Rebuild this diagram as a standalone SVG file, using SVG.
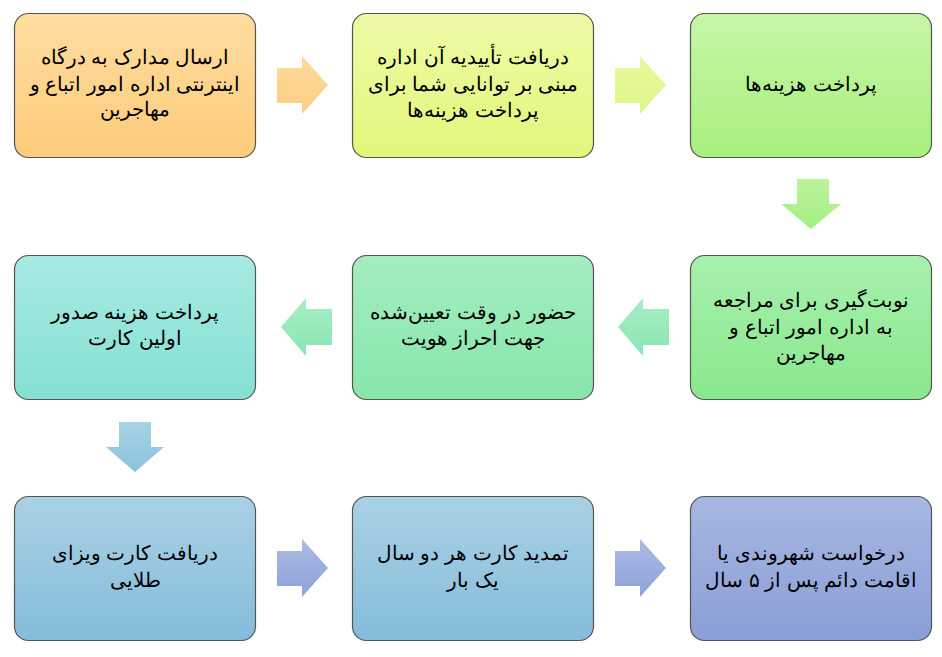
<svg xmlns="http://www.w3.org/2000/svg" width="942" height="657" viewBox="0 0 942 657">
<style>
.box{stroke:#55554f;stroke-width:1.2}
.t{font-family:"Liberation Sans","Noto Sans",Arial,sans-serif;font-size:20px;fill:#000;text-anchor:middle;direction:rtl}
</style>
<defs>
<linearGradient id="g1" x1="0" y1="0" x2="0" y2="1"><stop offset="0" stop-color="#FEDDA0"/><stop offset="1" stop-color="#FDCB7B"/></linearGradient>
<linearGradient id="g2" x1="0" y1="0" x2="0" y2="1"><stop offset="0" stop-color="#EFFAA6"/><stop offset="1" stop-color="#E2F67A"/></linearGradient>
<linearGradient id="g3" x1="0" y1="0" x2="0" y2="1"><stop offset="0" stop-color="#C6F6A6"/><stop offset="1" stop-color="#A8F07E"/></linearGradient>
<linearGradient id="g6" x1="0" y1="0" x2="0" y2="1"><stop offset="0" stop-color="#A8F0AE"/><stop offset="1" stop-color="#88E88C"/></linearGradient>
<linearGradient id="g5" x1="0" y1="0" x2="0" y2="1"><stop offset="0" stop-color="#A4EDC1"/><stop offset="1" stop-color="#86E6AB"/></linearGradient>
<linearGradient id="g4" x1="0" y1="0" x2="0" y2="1"><stop offset="0" stop-color="#A7E9E2"/><stop offset="1" stop-color="#84E1D3"/></linearGradient>
<linearGradient id="g7" x1="0" y1="0" x2="0" y2="1"><stop offset="0" stop-color="#AAD1E4"/><stop offset="1" stop-color="#84BCDB"/></linearGradient>
<linearGradient id="g9" x1="0" y1="0" x2="0" y2="1"><stop offset="0" stop-color="#A8B7E1"/><stop offset="1" stop-color="#8A9ED7"/></linearGradient>
<linearGradient id="a1" x1="0" y1="0" x2="0" y2="1"><stop offset="0" stop-color="#FEDA98"/><stop offset="1" stop-color="#FDCE84"/></linearGradient>
<linearGradient id="a2" x1="0" y1="0" x2="0" y2="1"><stop offset="0" stop-color="#E8F9A0"/><stop offset="1" stop-color="#DCF785"/></linearGradient>
<linearGradient id="a3" x1="0" y1="0" x2="0" y2="1"><stop offset="0" stop-color="#BCF49C"/><stop offset="1" stop-color="#A4EE82"/></linearGradient>
<linearGradient id="a4" x1="0" y1="0" x2="0" y2="1"><stop offset="0" stop-color="#A6EEC4"/><stop offset="1" stop-color="#8AE6B2"/></linearGradient>
<linearGradient id="a6" x1="0" y1="0" x2="0" y2="1"><stop offset="0" stop-color="#A8D2E4"/><stop offset="1" stop-color="#8CC2DE"/></linearGradient>
<linearGradient id="a7" x1="0" y1="0" x2="0" y2="1"><stop offset="0" stop-color="#AABAE2"/><stop offset="1" stop-color="#8EA2D8"/></linearGradient>
</defs>

<g id="connectors">
<polygon fill="url(#a1)" points="277,68 302,68 302,56 328,85 302,114 302,103 277,103"/>
<polygon fill="url(#a2)" points="615,68 640,68 640,56 666,85 640,114 640,103 615,103"/>
<polygon fill="url(#a3)" points="797,179 829,179 829,204 841,204 811,229 781,204 797,204"/>
<polygon fill="url(#a4)" points="669,309 643,309 643,298 618,327 643,356 643,345 669,345"/>
<polygon fill="url(#a4)" points="332,309 306,309 306,298 281,327 306,356 306,345 332,345"/>
<polygon fill="url(#a6)" points="119,422 151,422 151,447 164,447 135,472 106,447 119,447"/>
<polygon fill="url(#a7)" points="277,551 302,551 302,539 328,568 302,597 302,586 277,586"/>
<polygon fill="url(#a7)" points="615,551 640,551 640,539 666,568 640,597 640,586 615,586"/>
</g>

<g id="node1">
<rect class="box" x="14.5" y="13.5" width="241" height="144" rx="14" fill="url(#g1)"/>
<text class="t" x="135" y="64">ارسال مدارک به درگاه</text>
<text class="t" x="135" y="91">اینترنتی اداره امور اتباع و</text>
<text class="t" x="135" y="116">مهاجرین</text>
</g>
<g id="node2">
<rect class="box" x="352.5" y="13.5" width="241" height="144" rx="14" fill="url(#g2)"/>
<text class="t" x="473" y="64">دریافت تأییدیه آن اداره</text>
<text class="t" x="473" y="91">مبنی بر توانایی شما برای</text>
<text class="t" x="473" y="117">پرداخت هزینه‌ها</text>
</g>
<g id="node3">
<rect class="box" x="690.5" y="13.5" width="241" height="144" rx="14" fill="url(#g3)"/>
<text class="t" x="811" y="91">پرداخت هزینه‌ها</text>
</g>
<g id="node6">
<rect class="box" x="690.5" y="255.5" width="241" height="144" rx="14" fill="url(#g6)"/>
<text class="t" x="811" y="307">نوبت‌گیری برای مراجعه</text>
<text class="t" x="811" y="334">به اداره امور اتباع و</text>
<text class="t" x="811" y="360">مهاجرین</text>
</g>
<g id="node5">
<rect class="box" x="352.5" y="255.5" width="241" height="144" rx="14" fill="url(#g5)"/>
<text class="t" x="473" y="319">حضور در وقت تعیین‌شده</text>
<text class="t" x="473" y="345">جهت احراز هویت</text>
</g>
<g id="node4">
<rect class="box" x="14.5" y="255.5" width="241" height="144" rx="14" fill="url(#g4)"/>
<text class="t" x="135" y="319">پرداخت هزینه صدور</text>
<text class="t" x="135" y="345">اولین کارت</text>
</g>
<g id="node7">
<rect class="box" x="14.5" y="496.5" width="241" height="144" rx="14" fill="url(#g7)"/>
<text class="t" x="135" y="560">دریافت کارت ویزای</text>
<text class="t" x="135" y="587">طلایی</text>
</g>
<g id="node8">
<rect class="box" x="352.5" y="496.5" width="241" height="144" rx="14" fill="url(#g7)"/>
<text class="t" x="473" y="560">تمدید کارت هر دو سال</text>
<text class="t" x="473" y="587">یک بار</text>
</g>
<g id="node9">
<rect class="box" x="690.5" y="496.5" width="241" height="144" rx="14" fill="url(#g9)"/>
<text class="t" x="811" y="560">درخواست شهروندی یا</text>
<text class="t" x="811" y="587">اقامت دائم پس از ۵ سال</text>
</g>
</svg>
